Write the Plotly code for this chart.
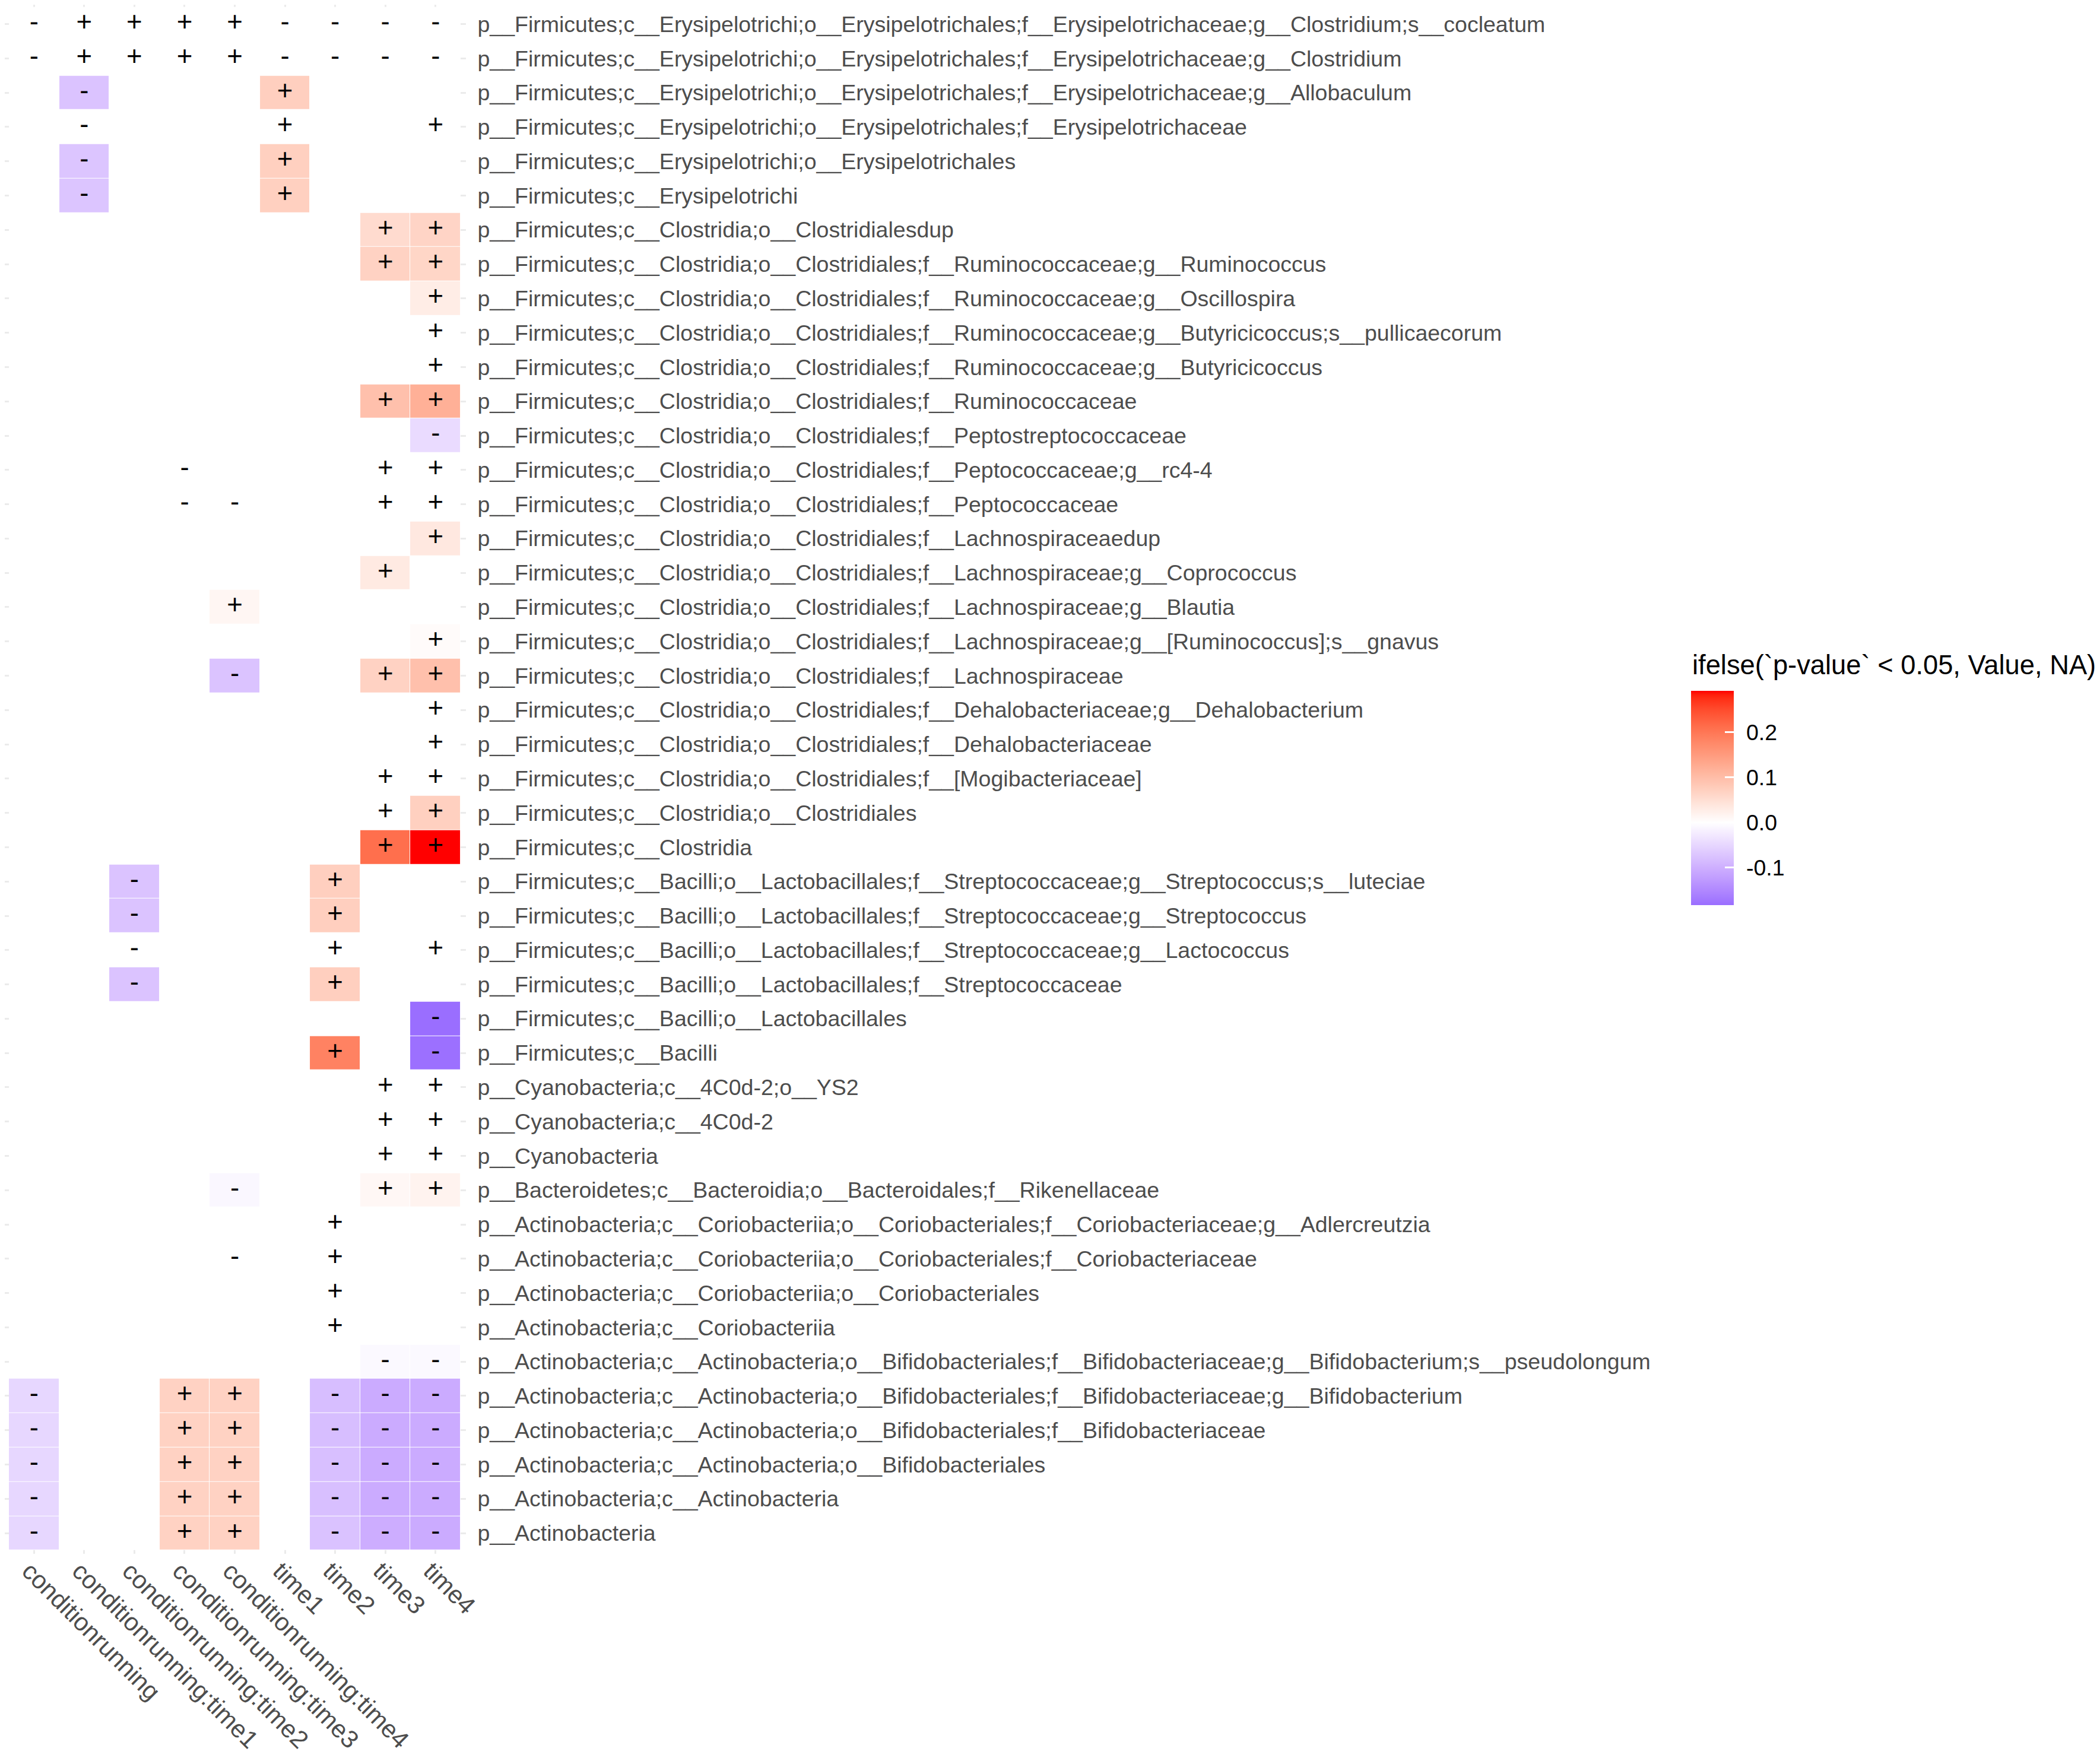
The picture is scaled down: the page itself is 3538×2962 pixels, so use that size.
import plotly.graph_objects as go
import numpy as np

W, H = 3538, 2962

columns = ["conditionrunning", "conditionrunning:time1", "conditionrunning:time2",
           "conditionrunning:time3", "conditionrunning:time4",
           "time1", "time2", "time3", "time4"]

taxa = [
    "p__Firmicutes;c__Erysipelotrichi;o__Erysipelotrichales;f__Erysipelotrichaceae;g__Clostridium;s__cocleatum",
    "p__Firmicutes;c__Erysipelotrichi;o__Erysipelotrichales;f__Erysipelotrichaceae;g__Clostridium",
    "p__Firmicutes;c__Erysipelotrichi;o__Erysipelotrichales;f__Erysipelotrichaceae;g__Allobaculum",
    "p__Firmicutes;c__Erysipelotrichi;o__Erysipelotrichales;f__Erysipelotrichaceae",
    "p__Firmicutes;c__Erysipelotrichi;o__Erysipelotrichales",
    "p__Firmicutes;c__Erysipelotrichi",
    "p__Firmicutes;c__Clostridia;o__Clostridialesdup",
    "p__Firmicutes;c__Clostridia;o__Clostridiales;f__Ruminococcaceae;g__Ruminococcus",
    "p__Firmicutes;c__Clostridia;o__Clostridiales;f__Ruminococcaceae;g__Oscillospira",
    "p__Firmicutes;c__Clostridia;o__Clostridiales;f__Ruminococcaceae;g__Butyricicoccus;s__pullicaecorum",
    "p__Firmicutes;c__Clostridia;o__Clostridiales;f__Ruminococcaceae;g__Butyricicoccus",
    "p__Firmicutes;c__Clostridia;o__Clostridiales;f__Ruminococcaceae",
    "p__Firmicutes;c__Clostridia;o__Clostridiales;f__Peptostreptococcaceae",
    "p__Firmicutes;c__Clostridia;o__Clostridiales;f__Peptococcaceae;g__rc4-4",
    "p__Firmicutes;c__Clostridia;o__Clostridiales;f__Peptococcaceae",
    "p__Firmicutes;c__Clostridia;o__Clostridiales;f__Lachnospiraceaedup",
    "p__Firmicutes;c__Clostridia;o__Clostridiales;f__Lachnospiraceae;g__Coprococcus",
    "p__Firmicutes;c__Clostridia;o__Clostridiales;f__Lachnospiraceae;g__Blautia",
    "p__Firmicutes;c__Clostridia;o__Clostridiales;f__Lachnospiraceae;g__[Ruminococcus];s__gnavus",
    "p__Firmicutes;c__Clostridia;o__Clostridiales;f__Lachnospiraceae",
    "p__Firmicutes;c__Clostridia;o__Clostridiales;f__Dehalobacteriaceae;g__Dehalobacterium",
    "p__Firmicutes;c__Clostridia;o__Clostridiales;f__Dehalobacteriaceae",
    "p__Firmicutes;c__Clostridia;o__Clostridiales;f__[Mogibacteriaceae]",
    "p__Firmicutes;c__Clostridia;o__Clostridiales",
    "p__Firmicutes;c__Clostridia",
    "p__Firmicutes;c__Bacilli;o__Lactobacillales;f__Streptococcaceae;g__Streptococcus;s__luteciae",
    "p__Firmicutes;c__Bacilli;o__Lactobacillales;f__Streptococcaceae;g__Streptococcus",
    "p__Firmicutes;c__Bacilli;o__Lactobacillales;f__Streptococcaceae;g__Lactococcus",
    "p__Firmicutes;c__Bacilli;o__Lactobacillales;f__Streptococcaceae",
    "p__Firmicutes;c__Bacilli;o__Lactobacillales",
    "p__Firmicutes;c__Bacilli",
    "p__Cyanobacteria;c__4C0d-2;o__YS2",
    "p__Cyanobacteria;c__4C0d-2",
    "p__Cyanobacteria",
    "p__Bacteroidetes;c__Bacteroidia;o__Bacteroidales;f__Rikenellaceae",
    "p__Actinobacteria;c__Coriobacteriia;o__Coriobacteriales;f__Coriobacteriaceae;g__Adlercreutzia",
    "p__Actinobacteria;c__Coriobacteriia;o__Coriobacteriales;f__Coriobacteriaceae",
    "p__Actinobacteria;c__Coriobacteriia;o__Coriobacteriales",
    "p__Actinobacteria;c__Coriobacteriia",
    "p__Actinobacteria;c__Actinobacteria;o__Bifidobacteriales;f__Bifidobacteriaceae;g__Bifidobacterium;s__pseudolongum",
    "p__Actinobacteria;c__Actinobacteria;o__Bifidobacteriales;f__Bifidobacteriaceae;g__Bifidobacterium",
    "p__Actinobacteria;c__Actinobacteria;o__Bifidobacteriales;f__Bifidobacteriaceae",
    "p__Actinobacteria;c__Actinobacteria;o__Bifidobacteriales",
    "p__Actinobacteria;c__Actinobacteria",
    "p__Actinobacteria",
]

# sign labels per taxon (9 columns, "." = no label)
signs = [
    "-++++----", "-++++----",
    ".-...+...", ".-...+..+", ".-...+...", ".-...+...",
    ".......++", ".......++", "........+", "........+", "........+",
    ".......++", "........-", "...-...++", "...--..++", "........+",
    ".......+.", "....+....", "........+", "....-..++", "........+",
    "........+", ".......++", ".......++", ".......++",
    "..-...+..", "..-...+..", "..-...+.+", "..-...+..", "........-",
    "......+.-", ".......++", ".......++", ".......++", "....-..++",
    "......+..", "....-.+..", "......+..", "......+..", ".......--",
    "-..++.---", "-..++.---", "-..++.---", "-..++.---", "-..++.---",
]

NA = None
# ifelse(p-value < 0.05, Value, NA)
values = [
    [NA, NA, NA, NA, NA, NA, NA, NA, NA],
    [NA, NA, NA, NA, NA, NA, NA, NA, NA],
    [NA, -0.075, NA, NA, NA, 0.073, NA, NA, NA],
    [NA, NA, NA, NA, NA, NA, NA, NA, NA],
    [NA, -0.072, NA, NA, NA, 0.072, NA, NA, NA],
    [NA, -0.072, NA, NA, NA, 0.072, NA, NA, NA],
    [NA, NA, NA, NA, NA, NA, NA, 0.055, 0.065],
    [NA, NA, NA, NA, NA, NA, NA, 0.068, 0.063],
    [NA, NA, NA, NA, NA, NA, NA, NA, 0.028],
    [NA, NA, NA, NA, NA, NA, NA, NA, NA],
    [NA, NA, NA, NA, NA, NA, NA, NA, NA],
    [NA, NA, NA, NA, NA, NA, NA, 0.095, 0.12],
    [NA, NA, NA, NA, NA, NA, NA, NA, -0.045],
    [NA, NA, NA, NA, NA, NA, NA, NA, NA],
    [NA, NA, NA, NA, NA, NA, NA, NA, NA],
    [NA, NA, NA, NA, NA, NA, NA, NA, 0.035],
    [NA, NA, NA, NA, NA, NA, NA, 0.033, NA],
    [NA, NA, NA, NA, 0.014, NA, NA, NA, NA],
    [NA, NA, NA, NA, NA, NA, NA, NA, 0.006],
    [NA, NA, NA, NA, -0.075, NA, NA, 0.068, 0.095],
    [NA, NA, NA, NA, NA, NA, NA, NA, NA],
    [NA, NA, NA, NA, NA, NA, NA, NA, NA],
    [NA, NA, NA, NA, NA, NA, NA, NA, NA],
    [NA, NA, NA, NA, NA, NA, NA, NA, 0.072],
    [NA, NA, NA, NA, NA, NA, NA, 0.21, 0.292],
    [NA, NA, -0.075, NA, NA, NA, 0.073, NA, NA],
    [NA, NA, -0.075, NA, NA, NA, 0.073, NA, NA],
    [NA, NA, NA, NA, NA, NA, NA, NA, NA],
    [NA, NA, -0.075, NA, NA, NA, 0.073, NA, NA],
    [NA, NA, NA, NA, NA, NA, NA, NA, -0.183],
    [NA, NA, NA, NA, NA, NA, 0.185, NA, -0.181],
    [NA, NA, NA, NA, NA, NA, NA, NA, NA],
    [NA, NA, NA, NA, NA, NA, NA, NA, NA],
    [NA, NA, NA, NA, NA, NA, NA, NA, NA],
    [NA, NA, NA, NA, -0.01, NA, NA, 0.012, 0.018],
    [NA, NA, NA, NA, NA, NA, NA, NA, NA],
    [NA, NA, NA, NA, NA, NA, NA, NA, NA],
    [NA, NA, NA, NA, NA, NA, NA, NA, NA],
    [NA, NA, NA, NA, NA, NA, NA, NA, NA],
    [NA, NA, NA, NA, NA, NA, NA, -0.008, -0.008],
    [-0.05, NA, NA, 0.068, 0.068, NA, -0.082, -0.105, -0.105],
    [-0.05, NA, NA, 0.068, 0.068, NA, -0.082, -0.105, -0.105],
    [-0.05, NA, NA, 0.068, 0.068, NA, -0.08, -0.105, -0.105],
    [-0.05, NA, NA, 0.068, 0.068, NA, -0.08, -0.105, -0.105],
    [-0.05, NA, NA, 0.068, 0.068, NA, -0.076, -0.102, -0.105],
]

legend_title = "ifelse(`p-value` < 0.05, Value, NA)"
cbar_ticks = [-0.1, 0.0, 0.1, 0.2]
cbar_ticktext = ["-0.1", "0.0", "0.1", "0.2"]

# ---------- colour scale: gradient2(low=blue, mid=white, high=red) in Lab ----------
def _lin(c):
    c = c / 255.0
    return ((c + 0.055) / 1.055) ** 2.4 if c > 0.04045 else c / 12.92

def _gam(c):
    c = min(max(c, 0.0), 1.0)
    v = 1.055 * c ** (1 / 2.4) - 0.055 if c > 0.0031308 else 12.92 * c
    return int(round(v * 255))

def rgb2lab(rgb):
    r, g, b = [_lin(c) for c in rgb]
    X = (0.4124 * r + 0.3576 * g + 0.1805 * b) / 0.95047
    Y = (0.2126 * r + 0.7152 * g + 0.0722 * b)
    Z = (0.0193 * r + 0.1192 * g + 0.9505 * b) / 1.08883
    f = lambda t: t ** (1 / 3) if t > 0.008856 else 7.787 * t + 16 / 116
    fx, fy, fz = f(X), f(Y), f(Z)
    return (116 * fy - 16, 500 * (fx - fy), 200 * (fy - fz))

def lab2hex(lab):
    L, a, b = lab
    fy = (L + 16) / 116
    fx = fy + a / 500
    fz = fy - b / 200
    finv = lambda t: t ** 3 if t ** 3 > 0.008856 else (t - 16 / 116) / 7.787
    X, Y, Z = finv(fx) * 0.95047, finv(fy), finv(fz) * 1.08883
    r = 3.2406 * X - 1.5372 * Y - 0.4986 * Z
    g = -0.9689 * X + 1.8758 * Y + 0.0415 * Z
    bb = 0.0557 * X - 0.2040 * Y + 1.0570 * Z
    return "#%02x%02x%02x" % (_gam(r), _gam(g), _gam(bb))

LOW, MID, HIGH = rgb2lab((0, 0, 255)), rgb2lab((255, 255, 255)), rgb2lab((255, 0, 0))

def mix(a, b, t):
    return tuple(a[i] + (b[i] - a[i]) * t for i in range(3))

flat = [v for row in values for v in row if v is not None]
zmin, zmax = min(flat), max(flat)
maxabs = max(abs(zmin), abs(zmax))
stops = sorted(set(list(np.linspace(0, 1, 61)) + [(0 - zmin) / (zmax - zmin)]))
colorscale = []
for t in stops:
    v = zmin + t * (zmax - zmin)
    if v < 0:
        c = lab2hex(mix(MID, LOW, -v / maxabs))
    else:
        c = lab2hex(mix(MID, HIGH, v / maxabs))
    colorscale.append([float(t), c])

# ---------- figure ----------
FONT = "Liberation Sans, Arial, Helvetica, sans-serif"
OFF = 8  # page body margin offset compensation (px)

CB_X = (2849 - OFF) / W
CB_Y = 1 - (1344.5 - OFF) / H
cb_common = dict(
    x=CB_X, xanchor="left", xpad=0, ypad=0, y=CB_Y, yanchor="middle",
    len=361, lenmode="pixels", thickness=72, thicknessmode="pixels",
    outlinewidth=0, tickvals=cbar_ticks,
)

fig = go.Figure()

# white NA tiles
fig.add_trace(go.Heatmap(
    x=columns, y=taxa, z=[[0] * len(columns) for _ in taxa],
    colorscale=[[0, "white"], [1, "white"]], showscale=False, hoverinfo="skip",
))

fig.add_trace(go.Heatmap(
    x=columns, y=taxa, z=values, zmin=zmin, zmax=zmax,
    colorscale=colorscale, xgap=1, ygap=1, hoverongaps=False,
    colorbar=dict(
        **cb_common, ticktext=cbar_ticktext,
        ticks="outside", ticklen=14, tickwidth=1, tickcolor="rgba(0,0,0,0)",
        tickfont=dict(size=37.5, color="black", family=FONT),
    ),
))

# overlay colourbar carrying the white inside tick marks
fig.add_trace(go.Heatmap(
    x=columns, y=taxa, z=values, zmin=zmin, zmax=zmax, opacity=0,
    colorscale=colorscale, hoverinfo="skip",
    colorbar=dict(
        **cb_common, ticks="inside", ticklen=15, tickwidth=3,
        tickcolor="white", showticklabels=False,
    ),
))

tx, ty, tt = [], [], []
for i, row in enumerate(signs):
    for j, s in enumerate(row):
        if s != ".":
            tx.append(columns[j]); ty.append(taxa[i]); tt.append(s)
fig.add_trace(go.Scatter(
    x=tx, y=ty, text=tt, mode="text", hoverinfo="skip", showlegend=False,
    textfont=dict(size=45.6, color="black", family=FONT),
))

fig.add_annotation(
    text=legend_title, x=(2849 - OFF) / W, y=1 - (1121 - OFF) / H,
    xref="paper", yref="paper", xanchor="left", yanchor="middle",
    showarrow=False, font=dict(size=45.3, color="black", family=FONT),
)

n = len(taxa)
ncol = len(columns)
fig.update_layout(
    width=W, height=H, margin=dict(l=0, r=0, t=0, b=0),
    plot_bgcolor="white", paper_bgcolor="white", showlegend=False,
    xaxis=dict(
        domain=[0, 776.5 / W], type="category",
        categoryorder="array", categoryarray=columns,
        range=[-0.583, ncol - 0.4],
        showgrid=True, gridcolor="#EBEBEB", gridwidth=3,
        zeroline=False, showline=False, ticks="",
        tickangle=45, automargin=False,
        ticklabelstandoff=-5, ticklabelshift=-8,
        tickfont=dict(size=42, color="#4D4D4D", family=FONT),
    ),
    yaxis=dict(
        domain=[1 - 2609.8 / H, 1], type="category",
        categoryorder="array", categoryarray=taxa,
        range=[n - 0.4, -0.564], side="right",
        showgrid=True, gridcolor="#EBEBEB", gridwidth=3,
        zeroline=False, showline=False, ticks="",
        automargin=False, ticklabelstandoff=19,
        tickfont=dict(size=37.5, color="#4D4D4D", family=FONT),
    ),
)

fig.write_html("out.html")
